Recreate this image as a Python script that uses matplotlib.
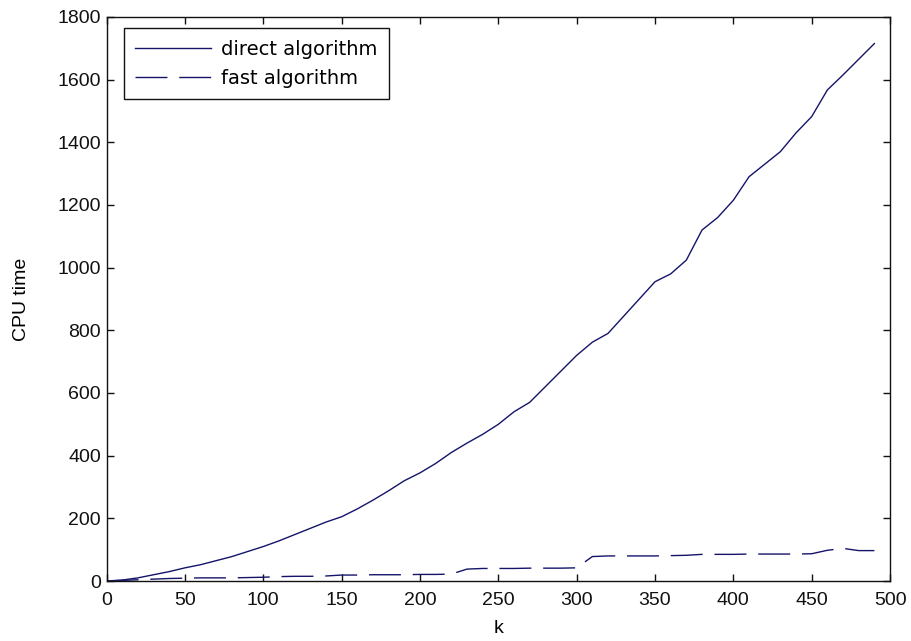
import numpy as np
import matplotlib
matplotlib.use('Agg')
import matplotlib.pyplot as plt

plt.rcParams['font.family'] = ['Liberation Sans', 'DejaVu Sans']

# CPU time versus k for both methods
k = np.arange(0, 500, 10)
t_direct = [0, 3, 10, 20, 30, 42, 52, 65, 78, 94,
            110, 128, 148, 168, 188, 205, 230, 258, 288, 320,
            345, 375, 410, 440, 468, 500, 540, 570, 620, 670,
            720, 762, 790, 845, 900, 955, 980, 1024, 1120, 1160,
            1215, 1290, 1330, 1370, 1430, 1482, 1567, 1615, 1665, 1715]
t_fast = [0, 2, 4, 6, 8, 9, 10, 10, 10, 11,
          12, 14, 15, 15, 16, 19, 19, 20, 20, 20,
          21, 21, 22, 38, 40, 40, 40, 41, 41, 41,
          42, 78, 80, 80, 80, 80, 81, 82, 85, 85,
          85, 86, 86, 86, 86, 87, 98, 104, 97, 97]

col = '#14146a'
fs = 14

fig = plt.figure(figsize=(9.11, 6.41), dpi=100)
ax = fig.add_axes([0.117, 0.0936, 0.86, 0.88])

ax.plot(k, t_direct, color=col, lw=1.0, label='direct algorithm')
ax.plot(k, t_fast, color=col, lw=1.0, dashes=(23, 8.5), label='fast algorithm')

ax.set_xlim(0, 500)
ax.set_ylim(0, 1800)
ax.set_xticks(np.arange(0, 501, 50))
ax.set_yticks(np.arange(0, 1801, 200))
ax.tick_params(direction='in', length=5, width=1, top=True, right=True,
               labelsize=fs, colors='#111111')
ax.tick_params(axis='x', pad=8)
ax.tick_params(axis='y', pad=4)
for sp in ax.spines.values():
    sp.set_linewidth(1.0)
    sp.set_color('#111111')

ax.set_xlabel('k', fontsize=fs, labelpad=8)
ax.set_ylabel('CPU time', fontsize=fs, labelpad=20)

leg = ax.legend(loc='upper left', bbox_to_anchor=(0.022, 0.98),
                prop={'family': 'DejaVu Sans', 'size': fs},
                fancybox=False, edgecolor='#111111', framealpha=1,
                handlelength=3.9, labelspacing=0.5, borderaxespad=0,
                handletextpad=0.5, borderpad=0.6)
leg.get_frame().set_linewidth(1.0)

plt.savefig('out.png', dpi=100)
